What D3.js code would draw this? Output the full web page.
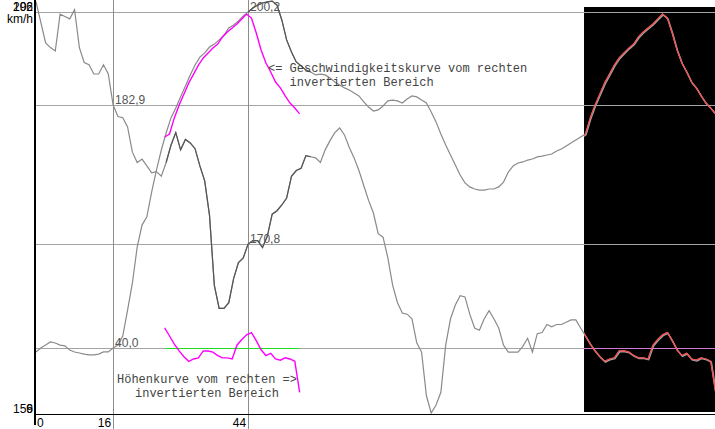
<!DOCTYPE html>
<html>
<head>
<meta charset="utf-8">
<script src="https://cdn.jsdelivr.net/npm/d3@7"></script>
<style>
body { margin: 0; background: #fff; overflow: hidden; }
text { font-family: "Liberation Sans", Arial, sans-serif; }
</style>
</head>
<body>
<script>
// hoehe in m, one sample per distance step
var heightVals = [191.9, 190.1, 188.3, 187.9, 187.6, 190.8, 190.6, 190.4, 191.2, 187.9,
    186.6, 186.4, 185.6, 185.6, 186.4, 185.6, 182.9, 181.9, 181.8, 181.0,
    178.8, 177.9, 178.2, 177.6, 177.0, 177.1, 176.7, 177.9, 179.4, 180.5,
    179.0, 179.9, 179.6, 179.1, 177.6, 176.3, 173.3, 167.2, 165.2, 165.2,
    165.7, 167.8, 169.2, 169.6, 170.8, 171.1, 171.1, 170.5, 171.5, 173.4,
    173.7, 174.2, 174.8, 176.7, 177.2, 177.4, 178.5, 178.4, 178.3, 177.9,
    179.0, 179.8, 180.5, 180.9, 180.3, 179.2, 178.3, 177.2, 175.9, 174.6,
    173.5, 171.7, 171.4, 169.6, 167.2, 165.7, 164.8, 164.7, 164.3, 162.2,
    161.4, 157.6, 156.1, 156.8, 157.9, 162.0, 164.3, 165.5, 166.3, 166.2,
    164.7, 163.5, 163.3, 164.3, 165.0, 164.3, 163.5, 162.0, 161.4, 161.4,
    161.4, 161.9, 162.6, 161.4, 163.0, 163.1, 163.8, 163.6, 163.8, 163.8,
    164.0, 164.2, 164.2, 163.5, 162.8, 162.1, 161.5, 161.0, 160.6, 160.8,
    160.9, 161.5, 161.5, 161.4, 161.1, 160.9, 160.9, 160.8, 162.0, 162.5,
    162.9, 163.1, 162.4, 161.6, 161.1, 161.3, 160.8, 160.7, 160.9, 160.8,
    160.6, 157.9];

// geschwindigkeit in km/h
var speedVals = [38.1, 40.0, 41.4, 42.9, 42.4, 41.4, 41.0, 39.0, 38.1, 37.6,
    37.1, 36.7, 36.7, 37.1, 38.1, 38.1, 40.0, 41.4, 45.7, 58.1,
    71.0, 88.2, 98.6, 102.5, 114.4, 124.9, 134.4, 142.5, 149.7, 154.4,
    159.7, 164.9, 170.2, 174.9, 178.7, 180.7, 183.5, 184.9, 186.9, 189.2,
    192.6, 194.0, 195.9, 198.3, 200.2, 202.1, 203.5, 204.5, 205.0, 205.4,
    203.5, 196.4, 186.9, 181.1, 176.4, 174.5, 172.5, 171.6, 170.2, 170.6,
    170.2, 168.7, 166.8, 165.4, 164.0, 163.0, 161.6, 160.2, 157.3, 154.9,
    153.0, 153.5, 155.4, 157.8, 158.2, 157.8, 156.8, 158.7, 160.2, 159.7,
    158.2, 156.8, 152.5, 147.8, 142.0, 136.8, 132.0, 127.3, 122.5, 118.7,
    116.8, 115.8, 115.3, 115.3, 115.8, 115.8, 116.8, 119.1, 123.9, 126.8,
    128.2, 128.7, 129.6, 130.1, 131.1, 131.5, 132.0, 132.5, 133.9, 134.9,
    136.3, 137.7, 139.2, 140.6, 142.0, 149.7, 155.9, 161.1, 166.4, 170.6,
    174.9, 178.3, 180.7, 183.0, 184.9, 188.3, 190.7, 192.6, 194.5, 196.9,
    199.2, 197.3, 190.2, 182.1, 175.9, 171.6, 166.8, 164.0, 160.2, 156.8,
    154.4, 151.6];

var xTicks = [0, 16, 44];          // beschriftete positionen
var cursorIdx = [16, 44];          // cursor linien
var speedRange = [9.0, 205.92];
var heightRange = [156.1, 192.04];
var unitLabel = "km/h";
var invertFrom = 113;              // rechter invertierter bereich (sample)
var mirrorShift = 86.3;            // kopie nach links
var noteSpeed = ["<= Geschwindigkeitskurve vom rechten", "   invertierten Bereich"];
var noteHeight = ["Höhenkurve vom rechten =>", "invertierten Bereich"];

var w = 715, h = 429;
var svg = d3.select("body").append("svg").attr("width", w).attr("height", h);

var x = d3.scaleLinear().domain([0, heightVals.length - 1]).range([36, 715.6]);
var yS = d3.scaleLinear().domain(speedRange).range([413, 0]);
var yH = d3.scaleLinear().domain(heightRange).range([413, 0]);

var comma = function(v){ return d3.format(".1f")(v).replace(".", ","); };

function pts(vals, from, to) {
    var a = [];
    for (var i = from; i <= to; i++) a.push({i: i, v: vals[i]});
    return a;
}
function path(vals, y, from, to, shift) {
    shift = shift || 0;
    return d3.line()
        .x(function(d){ return x(d.i - shift); })
        .y(function(d){ return y(d.v); })(pts(vals, from, to));
}

var last = heightVals.length - 1;
var blackX = x(invertFrom + 0.7);

svg.append("defs").append("clipPath").attr("id", "inv")
    .append("rect").attr("x", blackX).attr("y", 7).attr("width", w - blackX).attr("height", 405);

// schwarzer (invertierter) bereich
svg.append("rect")
    .attr("x", blackX).attr("y", 7)
    .attr("width", w - blackX).attr("height", 405)
    .attr("fill", "#000");

// gitter an den cursorwerten
var gridY = [];
cursorIdx.forEach(function(i){
    gridY.push({y: yS(speedVals[i]), v: speedVals[i], i: i});
    gridY.push({y: yH(heightVals[i]), v: heightVals[i], i: i});
});

svg.selectAll(".hgrid").data(gridY).enter().append("line")
    .attr("x1", 35).attr("x2", w)
    .attr("y1", function(d){ return Math.round(d.y) + 0.5; })
    .attr("y2", function(d){ return Math.round(d.y) + 0.5; })
    .attr("stroke", "#a4a4a4").attr("stroke-width", 1);

svg.selectAll(".vgrid").data(cursorIdx).enter().append("line")
    .attr("x1", function(d){ return Math.round(x(d)) + 0.5; })
    .attr("x2", function(d){ return Math.round(x(d)) + 0.5; })
    .attr("y1", 0).attr("y2", h)
    .attr("stroke", "#8c8c8c").attr("stroke-width", 1);

// 40,0 linie im invertierten bereich
var refY = Math.round(yS(speedVals[cursorIdx[0]])) + 0.5;
svg.append("line")
    .attr("x1", blackX).attr("x2", w).attr("y1", refY).attr("y2", refY)
    .attr("stroke", "#d27ad2").attr("stroke-width", 1);

// kurven
svg.append("path").attr("d", path(heightVals, yH, 0, last))
    .attr("fill", "none").attr("stroke", "#8a8a8a").attr("stroke-width", 1.2);
svg.append("path").attr("d", path(speedVals, yS, 0, last))
    .attr("fill", "none").attr("stroke", "#8a8a8a").attr("stroke-width", 1.2);
svg.append("path").attr("d", path(heightVals, yH, 27, 57))
    .attr("fill", "none").attr("stroke", "#555", "").attr("stroke-width", 1.2);
svg.append("path").attr("d", path(speedVals, yS, 44, 57))
    .attr("fill", "none").attr("stroke", "#555").attr("stroke-width", 1.2);

// rot im invertierten bereich
var inv = svg.append("g").attr("clip-path", "url(#inv)");
[[heightVals, yH], [speedVals, yS]].forEach(function(c){
    inv.append("path").attr("d", path(c[0], c[1], invertFrom - 1, last))
        .attr("fill", "none").attr("stroke", "#9aa6a6").attr("stroke-width", 1.4)
        .attr("transform", "translate(0.6,0.8)");
    inv.append("path").attr("d", path(c[0], c[1], invertFrom - 1, last))
        .attr("fill", "none").attr("stroke", "#ff4a4a").attr("stroke-width", 1.2);
});

// kopie links (magenta) + gruene linie
svg.append("line")
    .attr("x1", x(invertFrom - mirrorShift)).attr("x2", x(last - mirrorShift))
    .attr("y1", refY).attr("y2", refY)
    .attr("stroke", "#22dd22").attr("stroke-width", 1);
svg.append("path").attr("d", path(speedVals, yS, invertFrom, last, mirrorShift))
    .attr("fill", "none").attr("stroke", "#ff00ff").attr("stroke-width", 1.4);
svg.append("path").attr("d", path(heightVals, yH, invertFrom, last, mirrorShift))
    .attr("fill", "none").attr("stroke", "#ff00ff").attr("stroke-width", 1.4);

// achsen
svg.append("line").attr("x1", 35).attr("x2", 35).attr("y1", 0).attr("y2", 425)
    .attr("stroke", "#000").attr("stroke-width", 2);
svg.append("line").attr("x1", 35).attr("x2", w).attr("y1", 414.5).attr("y2", 414.5)
    .attr("stroke", "#000").attr("stroke-width", 1);

svg.selectAll(".xt").data(xTicks).enter().append("text")
    .attr("x", function(d){ return d === 0 ? x(d) + 1 : x(d) - 2; })
    .attr("y", 427)
    .attr("text-anchor", function(d){ return d === 0 ? "start" : "end"; })
    .attr("font-size", 12).attr("fill", "#000")
    .text(function(d){ return d; });

// y beschriftung (beide skalen uebereinander)
var fmt0 = d3.format(".0f");
[speedRange[1], heightRange[1]].forEach(function(v){
    svg.append("text").attr("x", 33).attr("y", 11).attr("text-anchor", "end")
        .attr("font-size", 12).attr("fill", "#000").text(fmt0(v));
});
[speedRange[0], heightRange[0]].forEach(function(v){
    svg.append("text").attr("x", 33).attr("y", 413).attr("text-anchor", "end")
        .attr("font-size", 12).attr("fill", "#000").text(fmt0(v));
});
svg.append("text").attr("x", 33).attr("y", 23).attr("text-anchor", "end")
    .attr("font-size", 12).attr("fill", "#000").text(unitLabel);

// cursor werte
svg.selectAll(".cv").data(gridY).enter().append("text")
    .attr("x", function(d){ return x(d.i) + 2; })
    .attr("y", function(d){ return Math.round(d.y) - 1; })
    .attr("font-size", 12).attr("fill", "#555")
    .text(function(d){ return comma(d.v); });

// hinweise
svg.append("g").selectAll("text").data(noteSpeed).enter().append("text")
    .attr("x", 268).attr("y", function(d, k){ return 72 + k * 14; })
    .style("white-space", "pre")
    .style("font-family", "'Liberation Mono', 'Courier New', monospace")
    .attr("font-size", 12).attr("fill", "#444")
    .text(function(d){ return d; });
svg.append("g").selectAll("text").data(noteHeight).enter().append("text")
    .attr("x", 207).attr("y", function(d, k){ return 383 + k * 14; })
    .attr("text-anchor", "middle")
    .style("font-family", "'Liberation Mono', 'Courier New', monospace")
    .attr("font-size", 12).attr("fill", "#444")
    .text(function(d){ return d; });
</script>
</body>
</html>
